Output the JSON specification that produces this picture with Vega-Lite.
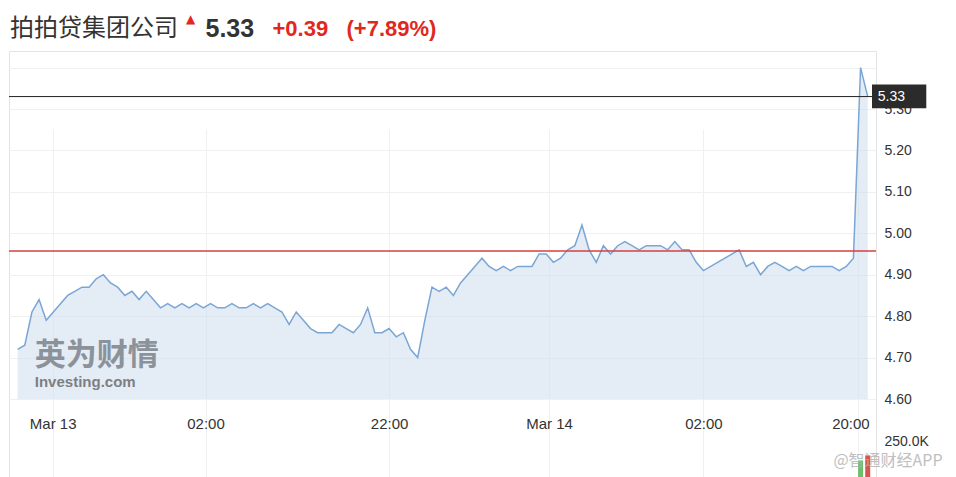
{
  "$schema": "https://vega.github.io/schema/vega-lite/v6.json",
  "width": 867,
  "height": 426,
  "autosize": {"type": "none"},
  "padding": {"left": 9, "top": 51, "right": 80, "bottom": 0},
  "background": "white",
  "title": {"text": "拍拍贷集团公司", "anchor": "start", "frame": "group", "font": "Noto Sans CJK SC", "fontSize": 24, "fontWeight": "normal", "color": "#333333", "offset": 8, "dx": 1, "dy": 37},
  "datasets": {
    "price": [
      {"i":0,"p":4.72},{"i":1,"p":4.73},{"i":2,"p":4.81},{"i":3,"p":4.84},{"i":4,"p":4.79},{"i":5,"p":4.81},{"i":6,"p":4.83},{"i":7,"p":4.85},{"i":8,"p":4.86},{"i":9,"p":4.87},
      {"i":10,"p":4.87},{"i":11,"p":4.89},{"i":12,"p":4.90},{"i":13,"p":4.88},{"i":14,"p":4.87},{"i":15,"p":4.85},{"i":16,"p":4.86},{"i":17,"p":4.84},{"i":18,"p":4.86},{"i":19,"p":4.84},
      {"i":20,"p":4.82},{"i":21,"p":4.83},{"i":22,"p":4.82},{"i":23,"p":4.83},{"i":24,"p":4.82},{"i":25,"p":4.83},{"i":26,"p":4.82},{"i":27,"p":4.83},{"i":28,"p":4.82},{"i":29,"p":4.82},
      {"i":30,"p":4.83},{"i":31,"p":4.82},{"i":32,"p":4.82},{"i":33,"p":4.83},{"i":34,"p":4.82},{"i":35,"p":4.83},{"i":36,"p":4.82},{"i":37,"p":4.81},{"i":38,"p":4.78},{"i":39,"p":4.81},
      {"i":40,"p":4.79},{"i":41,"p":4.77},{"i":42,"p":4.76},{"i":43,"p":4.76},{"i":44,"p":4.76},{"i":45,"p":4.78},{"i":46,"p":4.77},{"i":47,"p":4.76},{"i":48,"p":4.78},{"i":49,"p":4.82},
      {"i":50,"p":4.76},{"i":51,"p":4.76},{"i":52,"p":4.77},{"i":53,"p":4.75},{"i":54,"p":4.76},{"i":55,"p":4.72},{"i":56,"p":4.70},{"i":57,"p":4.79},{"i":58,"p":4.87},{"i":59,"p":4.86},
      {"i":60,"p":4.87},{"i":61,"p":4.85},{"i":62,"p":4.88},{"i":63,"p":4.90},{"i":64,"p":4.92},{"i":65,"p":4.94},{"i":66,"p":4.92},{"i":67,"p":4.91},{"i":68,"p":4.92},{"i":69,"p":4.91},
      {"i":70,"p":4.92},{"i":71,"p":4.92},{"i":72,"p":4.92},{"i":73,"p":4.95},{"i":74,"p":4.95},{"i":75,"p":4.93},{"i":76,"p":4.94},{"i":77,"p":4.96},{"i":78,"p":4.97},{"i":79,"p":5.02},
      {"i":80,"p":4.96},{"i":81,"p":4.93},{"i":82,"p":4.97},{"i":83,"p":4.95},{"i":84,"p":4.97},{"i":85,"p":4.98},{"i":86,"p":4.97},{"i":87,"p":4.96},{"i":88,"p":4.97},{"i":89,"p":4.97},
      {"i":90,"p":4.97},{"i":91,"p":4.96},{"i":92,"p":4.98},{"i":93,"p":4.96},{"i":94,"p":4.96},{"i":95,"p":4.93},{"i":96,"p":4.91},
      {"i":101,"p":4.96},{"i":102,"p":4.92},{"i":103,"p":4.93},{"i":104,"p":4.90},{"i":105,"p":4.92},{"i":106,"p":4.93},{"i":107,"p":4.92},{"i":108,"p":4.91},{"i":109,"p":4.92},
      {"i":110,"p":4.91},{"i":111,"p":4.92},{"i":112,"p":4.92},{"i":113,"p":4.92},{"i":114,"p":4.92},{"i":115,"p":4.91},{"i":116,"p":4.92},{"i":117,"p":4.94},{"i":118,"p":5.40},{"i":119,"p":5.33}
    ],
    "volume": [
      {"i":118,"v":115000,"dir":"up"},
      {"i":119,"v":150000,"dir":"down"}
    ]
  },
  "layer": [
    {
      "layer": [
        {
          "data": {"name": "price"},
          "mark": {"type": "area", "color": "#c9daee", "opacity": 0.5},
          "encoding": {
            "x": {"field": "i", "type": "quantitative", "title": "▲",
              "scale": {"domain": [-0.51, 119.46], "nice": false, "zero": false},
              "axis": {"orient": "bottom", "offset": -78, "values": [4.9, 26.3, 52, 74.4, 96, 117.7],
                "labelExpr": "datum.value < 10 ? 'Mar 13' : datum.value < 40 ? '02:00' : datum.value < 60 ? '22:00' : datum.value < 85 ? 'Mar 14' : datum.value < 110 ? '02:00' : '20:00'",
                "labelFlush": false, "labelOverlap": false, "labelPadding": 17, "labelFontSize": 15, "labelFont": "Liberation Sans", "labelColor": "#333333",
                "labelOffset": {"condition": {"test": "datum.value > 110", "value": -8}, "value": 0},
                "grid": true, "gridColor": "#f0f0f0",
                "titleX": 181, "titleY": -381, "titleAlign": "center", "titleBaseline": "middle", "titleFontSize": 12, "titleColor": "#e0281e", "titleFontWeight": "normal", "titleFont": "DejaVu Sans"}},
            "y": {"field": "p", "type": "quantitative", "title": "5.33",
              "scale": {"domain": [4.6, 5.44], "range": [348, 0], "nice": false, "zero": false},
              "axis": {"orient": "right", "values": [4.6, 4.7, 4.8, 4.9, 5.0, 5.1, 5.2, 5.3, 5.4],
                "labelExpr": "datum.value > 5.35 ? '' : format(datum.value, '.2f')",
                "labelPadding": 8, "labelFontSize": 14, "labelFont": "Liberation Sans", "labelColor": "#333333",
                "grid": true, "gridColor": "#f0f0f0",
                "titleAngle": 0, "titleX": -671, "titleY": -15, "titleAlign": "left", "titleBaseline": "alphabetic",
                "titleFont": "Liberation Sans", "titleFontSize": 25, "titleFontWeight": "bold", "titleColor": "#333333"}},
            "y2": {"datum": 4.6}
          }
        },
        {
          "data": {"name": "price"},
          "mark": {"type": "line", "color": "#7ba6d4", "strokeWidth": 1.5},
          "encoding": {
            "x": {"field": "i", "type": "quantitative", "title": "▲"},
            "y": {"field": "p", "type": "quantitative", "title": "5.33"}
          }
        },
        {
          "data": {"values": [{}]},
          "mark": {"type": "rule", "color": "#222222", "strokeWidth": 1},
          "encoding": {"y": {"datum": 5.33}}
        },
        {
          "data": {"values": [{}]},
          "mark": {"type": "rule", "color": "#d64040", "strokeWidth": 1.5},
          "encoding": {"y": {"datum": 4.957}}
        },
        {
          "data": {"values": [{}]},
          "mark": {"type": "rect", "color": "#2b2b2b"},
          "encoding": {"x": {"datum": 119.6}, "x2": {"datum": 127.2}, "y": {"datum": 5.359}, "y2": {"datum": 5.302}}
        },
        {
          "data": {"values": [{}]},
          "mark": {"type": "text", "text": "5.33", "color": "#ffffff", "fontSize": 14, "font": "Liberation Sans", "align": "left", "baseline": "middle"},
          "encoding": {"x": {"datum": 120.4}, "y": {"datum": 5.33}}
        },
        {
          "data": {"values": [{}]},
          "mark": {"type": "text", "text": "英为财情", "font": "Noto Sans CJK SC", "fontSize": 31, "fontWeight": "bold", "color": "#7d838b", "opacity": 0.85, "align": "left", "baseline": "middle"},
          "encoding": {"x": {"datum": 2.4}, "y": {"datum": 4.703}}
        },
        {
          "data": {"values": [{}]},
          "mark": {"type": "text", "text": "Investing.com", "font": "Liberation Sans", "fontSize": 15, "fontWeight": "bold", "color": "#6d6d6d", "opacity": 0.85, "align": "left", "baseline": "middle"},
          "encoding": {"x": {"datum": 2.4}, "y": {"datum": 4.642}}
        }
      ]
    },
    {
      "layer": [
        {
          "data": {"name": "volume"},
          "mark": {"type": "bar", "width": 5},
          "encoding": {
            "x": {"field": "i", "type": "quantitative", "title": "▲"},
            "y": {"field": "v", "type": "quantitative", "title": "+0.39\u00a0\u00a0\u00a0(+7.89%)",
              "scale": {"domain": [0, 250000], "range": [426, 390], "nice": false},
              "axis": {"orient": "left", "values": [250000], "labelExpr": "'250.0K'", "labelAlign": "left", "labelPadding": -875,
                "labelFontSize": 14, "labelFont": "Liberation Sans", "labelColor": "#333333", "grid": false,
                "titleAngle": 0, "titleX": 263, "titleY": -16, "titleAlign": "left", "titleBaseline": "alphabetic",
                "titleFontSize": 22, "titleFontWeight": "bold", "titleColor": "#e0281e", "titleFont": "Liberation Sans"}},
            "color": {"field": "dir", "type": "nominal", "scale": {"domain": ["up", "down"], "range": ["#6cbf6c", "#d9534f"]}, "legend": null}
          }
        },
        {
          "data": {"values": [{}]},
          "mark": {"type": "text", "text": "@智通财经APP", "font": "Noto Sans CJK SC", "fontSize": 16, "color": "#b0b0b0", "opacity": 0.8, "align": "left", "baseline": "middle"},
          "encoding": {"x": {"datum": 114.2}, "y": {"datum": 110000}}
        }
      ]
    }
  ],
  "resolve": {"scale": {"y": "independent"}, "axis": {"y": "independent"}},
  "config": {
    "view": {"stroke": "#e3e3e3"},
    "axis": {"domain": false, "ticks": false, "tickSize": 0}
  }
}
